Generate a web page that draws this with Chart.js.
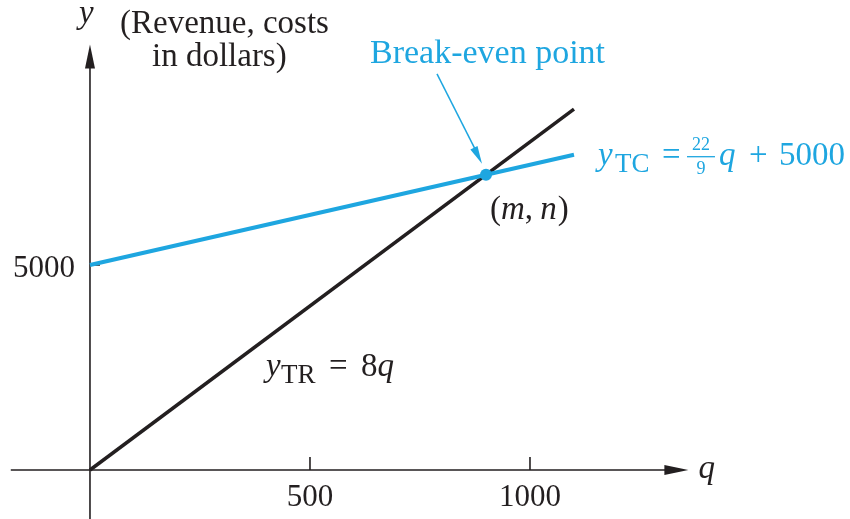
<!DOCTYPE html>
<html>
<head>
<meta charset="utf-8">
<script src="https://cdn.jsdelivr.net/npm/chart.js@4.4.1/dist/chart.umd.min.js"></script>
<style>
  html, body { margin: 0; padding: 0; background: #fff; }
  #c { display: block; }
</style>
</head>
<body>
<canvas id="c" width="850" height="519"></canvas>
<script>
// q (units) at the two ends of each line
const qEnds       = [0, 1100];
const revenueEnds = [0, 8800];     // y_TR = 8q
const costEnds    = [5000, 7690];  // y_TC = 22/9 q + 5000
const breakEven   = [{ x: 900, y: 7200 }];
const xTicks = [500, 1000];
const yTicks = [5000];

const INK   = '#231f20';
const BLUE  = '#1ea6e0';
const SERIF = '"Liberation Serif", "Times New Roman", serif';

/* ── text runs: plain, italic, subscripts, stacked fraction; "at" = offset from start ── */
function drawRuns(ctx, x0, y, parts, color){
  ctx.fillStyle = color;
  ctx.strokeStyle = color;
  ctx.textBaseline = 'alphabetic';
  ctx.textAlign = 'left';
  let x = x0;
  parts.forEach(p => {
    if (p.at !== undefined) x = x0 + p.at;
    const size = p.s || 33;
    ctx.font = `${p.i ? 'italic ' : ''}${size}px ${SERIF}`;
    if (p.frac){
      const wTop = ctx.measureText(p.frac[0]).width;
      const wBot = ctx.measureText(p.frac[1]).width;
      const w = p.w || Math.max(wTop, wBot) + 4;
      ctx.fillText(p.frac[0], x + (w - wTop) / 2, y - 15);
      ctx.fillText(p.frac[1], x + (w - wBot) / 2, y + 9);
      ctx.lineWidth = 1.3;
      ctx.beginPath(); ctx.moveTo(x, y - 8); ctx.lineTo(x + w, y - 8); ctx.stroke();
      x += w;
      return;
    }
    ctx.fillText(p.t, x, y + (p.dy || 0));
    x += ctx.measureText(p.t).width + (p.gap || 0);
  });
}

function arrowHead(ctx, x1, y1, x2, y2, len, half){
  const a = Math.atan2(y2 - y1, x2 - x1);
  ctx.beginPath();
  ctx.moveTo(x2, y2);
  ctx.lineTo(x2 - len * Math.cos(a) + half * Math.sin(a), y2 - len * Math.sin(a) - half * Math.cos(a));
  ctx.lineTo(x2 - len * Math.cos(a) - half * Math.sin(a), y2 - len * Math.sin(a) + half * Math.cos(a));
  ctx.closePath();
  ctx.fill();
}

/* ── crossing axes with arrows, ticks and tick labels ── */
const axesPlugin = {
  id: 'axes',
  beforeDatasetsDraw(chart){
    const { ctx, scales: { x: xs, y: ys } } = chart;
    const X0 = xs.getPixelForValue(0), Y0 = ys.getPixelForValue(0);
    const xL = xs.getPixelForValue(-180), xR = xs.getPixelForValue(1360);
    const yB = ys.getPixelForValue(-1300), yT = ys.getPixelForValue(10380);
    ctx.save();
    ctx.strokeStyle = INK; ctx.fillStyle = INK; ctx.lineWidth = 1.6;
    ctx.beginPath();
    ctx.moveTo(xL, Y0); ctx.lineTo(xR - 12, Y0);
    ctx.moveTo(X0, yB); ctx.lineTo(X0, yT + 12);
    xTicks.forEach(v => { const px = xs.getPixelForValue(v); ctx.moveTo(px, Y0); ctx.lineTo(px, Y0 - 13); });
    yTicks.forEach(v => { const py = ys.getPixelForValue(v); ctx.moveTo(X0, py); ctx.lineTo(X0 + 10, py); });
    ctx.stroke();
    arrowHead(ctx, xL, Y0, xR, Y0, 24, 5);
    arrowHead(ctx, X0, yB, X0, yT, 24, 5);

    ctx.font = `31px ${SERIF}`;
    ctx.textAlign = 'center'; ctx.textBaseline = 'alphabetic';
    xTicks.forEach(v => ctx.fillText(String(v), xs.getPixelForValue(v), Y0 + 36));
    ctx.textAlign = 'right';
    yTicks.forEach(v => ctx.fillText(String(v), X0 - 15, ys.getPixelForValue(v) + 12));

    // axis names
    drawRuns(ctx, xR + 10, Y0 + 8, [{ t: 'q', i: true }], INK);
    drawRuns(ctx, X0 - 11, yT - 21, [{ t: 'y', i: true }], INK);
    drawRuns(ctx, X0 + 30, yT - 11, [{ t: '(Revenue, costs' }], INK);
    drawRuns(ctx, X0 + 62, yT + 22, [{ t: 'in dollars)' }], INK);
    ctx.restore();
  },
  afterDatasetsDraw(chart){
    const { ctx, scales: { x: xs, y: ys } } = chart;
    const bx = xs.getPixelForValue(breakEven[0].x), by = ys.getPixelForValue(breakEven[0].y);
    ctx.save();
    // pointer to the break-even point
    ctx.strokeStyle = BLUE; ctx.fillStyle = BLUE; ctx.lineWidth = 1.5;
    ctx.beginPath(); ctx.moveTo(bx - 49, by - 101); ctx.lineTo(bx - 9, by - 22); ctx.stroke();
    arrowHead(ctx, bx - 49, by - 101, bx - 4, by - 11, 18, 4);
    drawRuns(ctx, bx - 116, by - 112, [{ t: 'Break-even point', s: 34 }], BLUE);
    drawRuns(ctx, bx + 4, by + 44, [{ t: '(' }, { t: 'm', i: true }, { t: ', ', gap: -1 }, { t: 'n', i: true, gap: 1 }, { t: ')' }], INK);

    // line equations
    const cx = xs.getPixelForValue(qEnds[1]), cy = ys.getPixelForValue(costEnds[1]);
    drawRuns(ctx, cx + 24, cy + 10, [
      { t: 'y', i: true }, { t: 'TC', s: 27, dy: 7, at: 17 }, { t: '=', at: 64 },
      { frac: ['22', '9'], s: 18, at: 89, w: 28 }, { t: 'q', i: true, at: 121 }, { t: '+', at: 151 }, { t: '5000', at: 181 }
    ], BLUE);
    drawRuns(ctx, xs.getPixelForValue(400), ys.getPixelForValue(2300), [
      { t: 'y', i: true }, { t: 'TR', s: 27, dy: 7, at: 15 }, { t: '=', at: 63 }, { t: '8', at: 95 }, { t: 'q', i: true }
    ], INK);
    ctx.restore();
  }
};

new Chart(document.getElementById('c'), {
  type: 'line',
  data: {
    datasets: [
      { label: 'Break-even point', data: breakEven, showLine: false,
        pointRadius: 6, pointBackgroundColor: BLUE, pointBorderColor: BLUE, pointBorderWidth: 0 },
      { label: 'Total cost', data: qEnds.map((q, i) => ({ x: q, y: costEnds[i] })),
        borderColor: BLUE, borderWidth: 4, pointRadius: 0 },
      { label: 'Total revenue', data: qEnds.map((q, i) => ({ x: q, y: revenueEnds[i] })),
        borderColor: INK, borderWidth: 3.5, pointRadius: 0 }
    ]
  },
  options: {
    responsive: false, animation: false, devicePixelRatio: 1,
    layout: { padding: 0, autoPadding: false },
    plugins: { legend: { display: false }, tooltip: { enabled: false } },
    scales: {
      x: { type: 'linear', min: -204.5, max: 1727.3, display: false },
      y: { type: 'linear', min: -1195, max: 11463, display: false }
    }
  },
  plugins: [axesPlugin]
});
</script>
</body>
</html>
